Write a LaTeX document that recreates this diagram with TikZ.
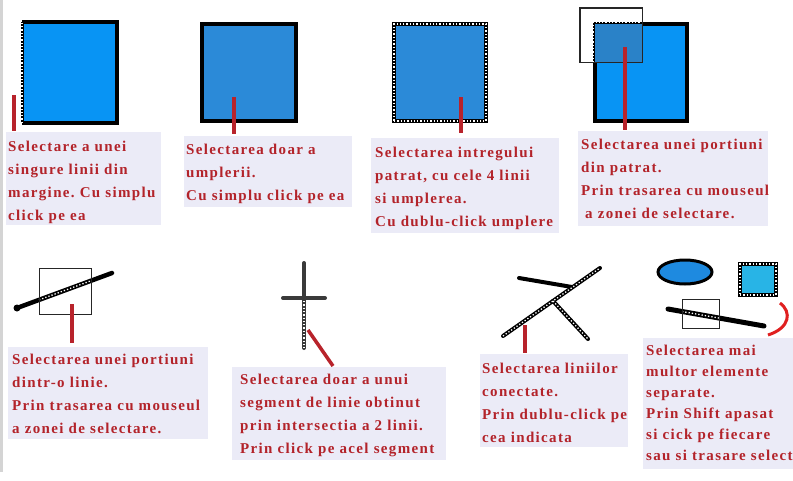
\documentclass[tikz,border=0pt]{standalone}
\usepackage{fontspec}
\newfontfamily\capfont[LetterSpace=9]{Liberation Serif}
\usetikzlibrary{shapes.geometric,calc}
\definecolor{capbg}{HTML}{EBEBF7}
\definecolor{captext}{HTML}{B3232A}
\definecolor{mark}{HTML}{B8232B}
\definecolor{brightred}{HTML}{E02020}
\definecolor{blueA}{HTML}{0894F4}
\definecolor{blueB}{HTML}{2B8AD8}
\definecolor{blueSel}{HTML}{2A82C8}
\definecolor{blueE}{HTML}{1E8AE0}
\definecolor{cyanS}{HTML}{28B4E6}
\definecolor{strip}{HTML}{D4D4D4}
\definecolor{crossgray}{HTML}{3A3A3A}
\frenchspacing
\begin{document}
\begin{tikzpicture}[x=1pt,y=-1pt,
  capbox/.style={fill=capbg, inner sep=0pt, anchor=north west},
  captxt/.style={text=captext, font=\frenchspacing\capfont\bfseries\fontsize{15pt}{23pt}\selectfont, align=left, inner sep=0pt, anchor=north west},
  sq/.style={rectangle, inner sep=0pt, line width=4pt, line join=miter},
  dotonly/.style={draw=white, line width=1.3pt, dash pattern=on 1.3pt off 2pt},
  thickline/.style={draw=black, line width=4.5pt, line cap=round},
  selrect/.style={rectangle, draw=black!85, line width=0.8pt, inner sep=0pt},
  marker/.style={draw=mark, line width=3.5pt},
]
\useasboundingbox (0,0) rectangle (793,480);
\fill[white] (0,0) rectangle (793,480);
\fill[strip] (0,0) rectangle (3,472);

% ---- square 1 : one edge selected
\node[sq, fill=blueA, minimum width=91pt, minimum height=97pt] (s1) at (69.5,72.5) {};
\draw[black, line width=4pt, line cap=square, line join=miter] (s1.north west) -- (s1.north east) -- (s1.south east) -- (s1.south west);
\draw[black, line width=3pt] (s1.south west) -- (s1.north west);
\draw[dotonly] (s1.south west) -- (s1.north west);

% ---- square 2 : fill selected
\node[sq, fill=blueB, draw=black, minimum width=94pt, minimum height=97pt] (s2) at (249,72.5) {};

% ---- square 3 : whole square selected
\node[sq, fill=blueB, draw=black, minimum width=92pt, minimum height=97pt, postaction={draw=white, line width=1.3pt, dash pattern=on 1.3pt off 2pt}] (s3) at (440,72.5) {};

% ---- square 4 : portion selected
\node[sq, fill=blueA, draw=black, minimum width=92pt, minimum height=97pt] (s4) at (641,72.5) {};
\node[selrect, minimum width=62pt, minimum height=54pt] (sel4) at (611,35) {};
\fill[blueSel] ([shift={(2,2)}]s4.north west) rectangle (sel4.south east);
\draw[dotonly] (sel4.south -| s4.west) -- (s4.north west) -- (s4.north -| sel4.east);
\draw[black!85, line width=0.8pt] (sel4.north west) rectangle (sel4.south east);

% ---- line 5 : portion of a line
\coordinate (l5a) at (17,308);
\coordinate (l5b) at (112,273);
\draw[thickline] (l5a) -- (l5b);
\fill[black] (l5a) circle (3.5pt);
\draw[dotonly] ($(l5a)!0.232!(l5b)$) -- ($(l5a)!0.779!(l5b)$);
\node[selrect, minimum width=52pt, minimum height=46pt] (sel5) at (65,291) {};

% ---- cross 6
\coordinate (cv1) at (304,263);
\coordinate (cv2) at (304,348);
\coordinate (ch1) at (283,298);
\coordinate (ch2) at (325,298);
\draw[crossgray, line width=4pt, line cap=round] (cv1) -- (cv2);
\draw[crossgray, line width=4pt, line cap=round] (ch1) -- (ch2);
\draw[dotonly] ($(ch1 -| cv1)+(0,3)$) -- (cv2);

% ---- connected lines 7
\coordinate (xa1) at (519,278);
\coordinate (xa2) at (572,287);
\coordinate (xb1) at (503,336);
\coordinate (xb2) at (600,268);
\coordinate (xc1) at (553,301);
\coordinate (xc2) at (588,339);
\draw[thickline, line width=4pt] (xa1) -- (xa2);
\draw[thickline, line width=4pt] (xb1) -- (xb2);
\draw[thickline, line width=4pt] (xc1) -- (xc2);
\draw[dotonly] (xb1) -- (xb2);
\draw[dotonly] (xc1) -- (xc2);

% ---- multiple elements 8
\node[ellipse, fill=blueE, draw=black, line width=3pt, minimum width=54pt, minimum height=24pt, inner sep=0pt] (e8) at (685,272) {};
\node[sq, fill=cyanS, draw=black, minimum width=36pt, minimum height=31pt, postaction={draw=white, line width=1.3pt, dash pattern=on 1.3pt off 2pt}] (q8) at (758,279.5) {};
\coordinate (l8a) at (668,309);
\coordinate (l8b) at (764,326);
\draw[thickline, line width=5pt] (l8a) -- (l8b);
\draw[dotonly] ($(l8a)!0.146!(l8b)$) -- ($(l8a)!0.531!(l8b)$);
\node[selrect, minimum width=37pt, minimum height=29pt] (sel8) at (700.5,313.5) {};
\coordinate (r8a) at (780,303);
\coordinate (r8b) at (768,335);
\draw[brightred, line width=3pt] (r8a) .. controls (792,312) and (790,328) .. (r8b);

% ---- caption boxes
\node[capbox, minimum width=155pt, minimum height=93pt] (b1) at (6,132) {};
\node[capbox, minimum width=168pt, minimum height=71pt] (b2) at (184,136) {};
\node[capbox, minimum width=188pt, minimum height=95pt] (b3) at (371,138) {};
\node[capbox, minimum width=190pt, minimum height=95pt] (b4) at (578,131) {};
\node[capbox, minimum width=200pt, minimum height=92pt] (b5) at (8,347) {};
\node[capbox, minimum width=214pt, minimum height=93pt] (b6) at (232,367) {};
\node[capbox, minimum width=148pt, minimum height=93pt] (b7) at (480,354) {};
\node[capbox, minimum width=155pt, minimum height=131pt] (b8) at (643,338) {};

% ---- caption texts
\node[captxt] (t1) at (8,139) {\rule{0pt}{12pt}Selectare a unei\\singure linii din\\margine. Cu simplu\\click pe ea};
\node[captxt] (t2) at (186,142) {\rule{0pt}{12pt}Selectarea doar a\\umplerii.\\Cu simplu click pe ea};
\node[captxt] (t3) at (375,145) {\rule{0pt}{12pt}Selectarea intregului\\patrat, cu cele 4 linii\\si umplerea.\\Cu dublu-click umplere};
\node[captxt] (t4) at (581,137) {\rule{0pt}{12pt}Selectarea unei portiuni\\din patrat.\\Prin trasarea cu mouseul\\\hspace{4pt}a zonei de selectare.};
\node[captxt] (t5) at (12,352) {\rule{0pt}{12pt}Selectarea unei portiuni\\dintr-o linie.\\Prin trasarea cu mouseul\\a zonei de selectare.};
\node[captxt] (t6) at (240,372) {\rule{0pt}{12pt}Selectarea doar a unui\\segment de linie obtinut\\prin intersectia a 2 linii.\\Prin click pe acel segment};
\node[captxt] (t7) at (482,361) {\rule{0pt}{12pt}Selectarea liniilor\\conectate.\\Prin dublu-click pe\\cea indicata};
\node[captxt, font=\frenchspacing\capfont\bfseries\fontsize{15pt}{21pt}\selectfont] (t8) at (646,343) {\rule{0pt}{12pt}Selectarea mai\\multor elemente\\separate.\\Prin Shift apasat\\si cick pe fiecare\\sau si trasare select};

% ---- red pointers
\coordinate (m1a) at (14,95);   \coordinate (m1b) at (14,131);
\coordinate (m2a) at (234,97);  \coordinate (m2b) at (234,134);
\coordinate (m3a) at (461,97);  \coordinate (m3b) at (461,133);
\coordinate (m4a) at (625,47);  \coordinate (m4b) at (625,130);
\coordinate (m5a) at (72,304);  \coordinate (m5b) at (72,343);
\coordinate (m6a) at (308,330); \coordinate (m6b) at (333,366);
\coordinate (m7a) at (525,325); \coordinate (m7b) at (525,353);
\draw[marker] (m1a) -- (m1b);
\draw[marker] (m2a) -- (m2b);
\draw[marker] (m3a) -- (m3b);
\draw[marker] (m4a) -- (m4b);
\draw[marker] (m5a) -- (m5b);
\draw[marker] (m6a) -- (m6b);
\draw[marker] (m7a) -- (m7b);
\end{tikzpicture}
\end{document}
